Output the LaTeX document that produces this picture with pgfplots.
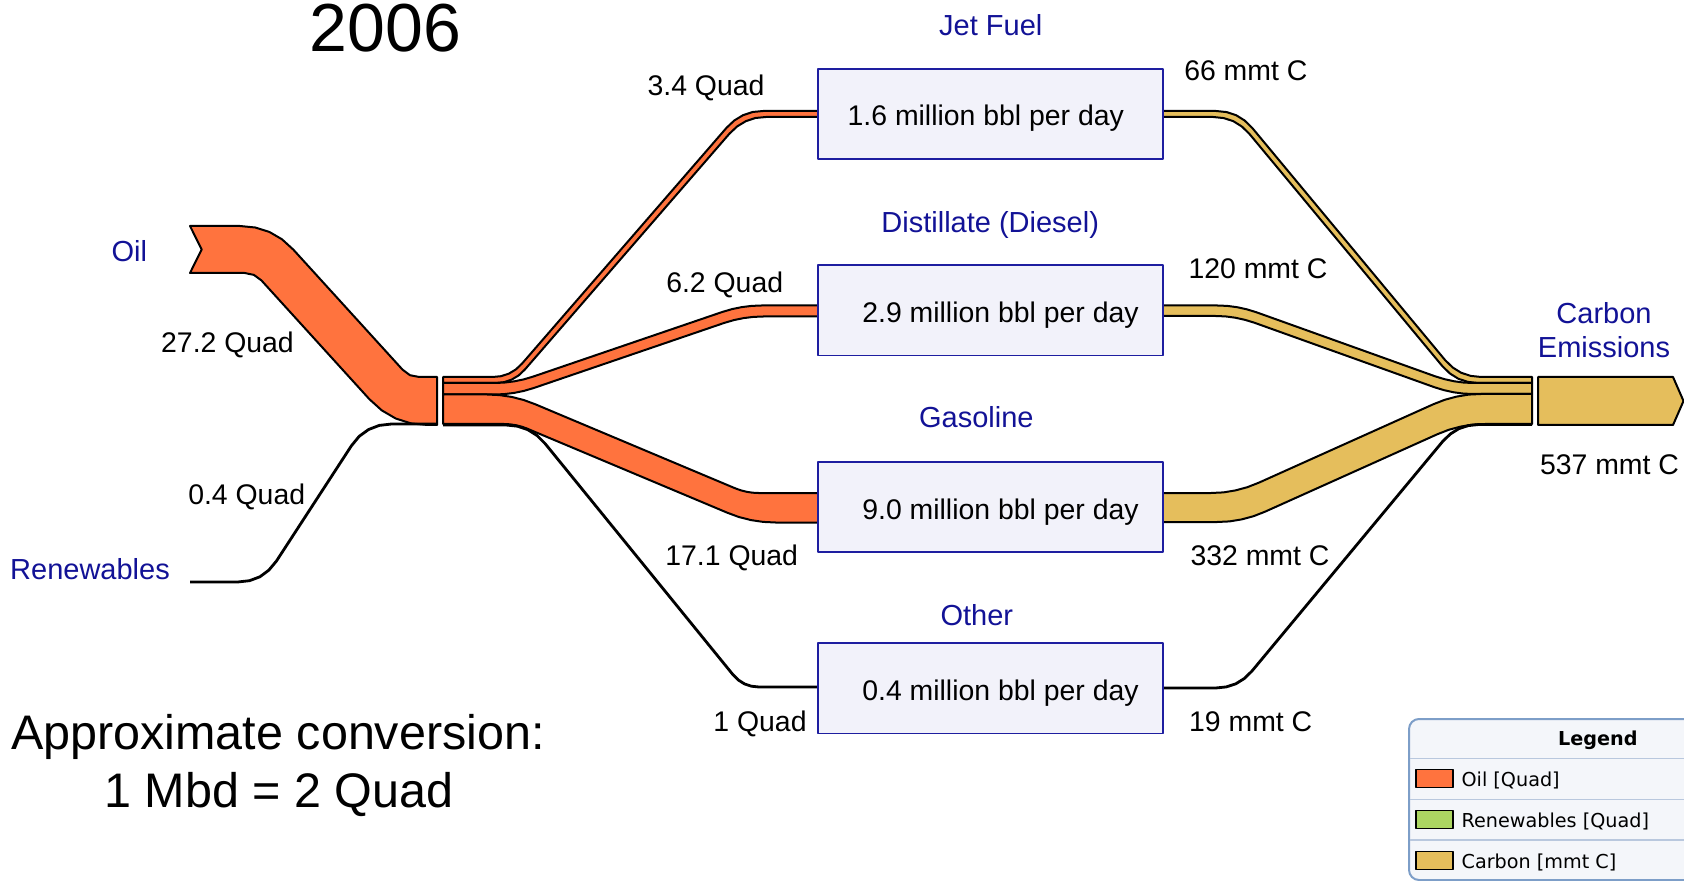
\documentclass[border=0pt]{standalone}
\usepackage{fontspec}
\setmainfont{Liberation Sans}
\newfontfamily\dejavu{DejaVu Sans}
\usepackage{pgfplots}
\pgfplotsset{compat=1.18}
\definecolor{oilc}{RGB}{255,115,62}
\definecolor{carbc}{RGB}{229,190,92}
\definecolor{renc}{RGB}{172,214,98}
\definecolor{navy}{RGB}{18,18,150}
\definecolor{boxb}{RGB}{30,30,160}
\definecolor{boxf}{RGB}{242,242,250}
\definecolor{legb}{RGB}{125,158,200}
\definecolor{legf}{RGB}{244,246,250}
\definecolor{legs}{RGB}{185,200,222}
\tikzset{
  lbl/.style={anchor=base, inner sep=0pt, font=\fontsize{14.2pt}{17pt}\selectfont},
  nlbl/.style={anchor=base, inner sep=0pt, text=navy, font=\fontsize{14.5pt}{17pt}\selectfont},
  big/.style={anchor=base, inner sep=0pt, font=\fontsize{24.25pt}{28pt}\selectfont},
}
\begin{document}
\begin{tikzpicture}
\begin{axis}[
  scale only axis, width=842pt, height=440.5pt,
  xmin=0, xmax=1684, ymin=0, ymax=881, y dir=reverse,
  axis lines=none, clip=false, no markers,
  legend image code/.code={\draw[#1] (0pt,-0.4pt) rectangle (18.5pt,8.35pt); \path (22.5pt,0pt);},
  legend style={at={(axis cs:1409,719)}, anchor=north west, draw=none, fill=none,
    inner xsep=3pt, inner ysep=0pt, row sep=0pt,
    font=\fontsize{9.6pt}{11pt}\selectfont\dejavu,
    cells={anchor=base west},
    nodes={inner sep=0pt, text height=7.5pt, text depth=2pt, minimum height=20.5pt}},
  every axis plot/.append style={line join=round},
]
% ---- legend frame
\draw[fill=legf, draw=legb, line width=1pt, rounded corners=5pt] (axis cs:1409,719) rectangle (axis cs:1720,880);
\draw[legs, line width=0.8pt] (axis cs:1410,758.3) -- (axis cs:1720,758.3);
\draw[legs, line width=0.8pt] (axis cs:1410,799.3) -- (axis cs:1720,799.3);
\draw[legs, line width=0.8pt] (axis cs:1410,840) -- (axis cs:1720,840);

% ---- Oil input (27.2 Quad)
\addplot[fill=oilc, draw=black, line width=1pt, forget plot] coordinates {
(190,226) (239.9,226) (255.2,227.5) (269.3,231.9) (282.0,239.3) (293.4,249.7)
(402.5,369.6) (410.0,375.2) (419.2,377) (437,377) (437,425) (427.8,425)
(411.0,423.4) (395.7,418.5) (381.8,410.4) (369.3,399.1) (261.4,280.4)
(253.9,274.9) (244.7,273) (190,273) (201.7,249.5)} -- cycle;

% ---- Renewables (0.4 Quad)
\addplot[draw=black, line width=1.4pt, forget plot] coordinates {
(190,582) (237.7,582) (249.5,580.7) (259.9,576.8) (268.8,570.2) (276.4,561.1)
(351.4,445.8) (359.2,436.3) (368.6,429.5) (379.3,425.4) (391.6,424) (437,424)};

% ---- Jet fuel oil (3.4 Quad)
\addplot[fill=oilc, draw=black, line width=1pt, forget plot] coordinates {
(443,377) (492.4,377) (501.0,376.2) (508.9,373.6) (515.9,369.4) (522.2,363.4)
(726.7,127.6) (734.4,120.4) (743.0,115.2) (752.6,112.0) (763.1,111) (822,111)
(822,117) (765.9,117) (755.4,118.0) (745.8,121.2) (737.2,126.4) (729.5,133.6)
(525.0,369.4) (518.7,375.4) (511.7,379.6) (503.8,382.2) (495.2,383) (443,383)} -- cycle;

% ---- Distillate oil (6.2 Quad)
\addplot[fill=oilc, draw=black, line width=1pt, forget plot] coordinates {
(443,383) (494.3,383) (504.2,382.6) (514.0,381.4) (523.7,379.4) (533.1,376.6)
(722.5,311.9) (732.1,309.1) (741.8,307.1) (751.6,305.9) (761.5,305.5) (822,305.5)
(822,316.5) (763.3,316.5) (753.4,316.9) (743.6,318.1) (733.9,320.1) (724.3,322.9)
(533.5,388.1) (523.9,390.9) (514.2,392.9) (504.4,394.1) (494.5,394.5) (443,394.5)} -- cycle;

% ---- Gasoline oil (17.1 Quad)
\addplot[fill=oilc, draw=black, line width=1pt, forget plot] coordinates {
(443,394.5) (487,394.5) (499.4,395.1) (511.5,396.9) (523.4,399.9) (535.1,404.2)
(735.4,488.4) (741.0,490.4) (746.7,491.8) (752.6,492.7) (758.5,493) (822,493)
(822,522.5) (775.5,522.5) (763.1,521.9) (751.0,520.1) (739.1,517.1) (727.5,512.8)
(527.1,428.6) (521.5,426.6) (515.8,425.2) (509.9,424.3) (504,424) (443,424)} -- cycle;

% ---- Other oil (1 Quad)
\addplot[draw=black, line width=1.4pt, forget plot] coordinates {
(443,425) (506,425) (517.4,426.2) (527.8,429.7) (537.0,435.5) (545.1,443.6)
(732.9,674.6) (738.3,680.0) (744.5,683.9) (751.4,686.2) (759,687) (822,687)};

% ---- Carbon: jet (66)
\addplot[fill=carbc, draw=black, line width=1pt, forget plot] coordinates {
(1159,111) (1216.1,111) (1226.6,112.1) (1236.1,115.2) (1244.6,120.5) (1252.2,127.9)
(1445.1,360.1) (1452.7,367.5) (1461.2,372.8) (1470.7,375.9) (1481.2,377) (1532,377)
(1532,383) (1478.4,383) (1467.9,381.9) (1458.4,378.8) (1449.9,373.5) (1442.3,366.1)
(1249.4,133.9) (1241.8,126.5) (1233.3,121.2) (1223.8,118.1) (1213.3,117) (1159,117)} -- cycle;

% ---- Carbon: distillate (120)
\addplot[fill=carbc, draw=black, line width=1pt, forget plot] coordinates {
(1159,305.5) (1217.4,305.5) (1227.3,305.9) (1237.1,307.2) (1246.7,309.3) (1256.2,312.2)
(1435.1,376.3) (1444.6,379.2) (1454.2,381.3) (1464.0,382.6) (1473.9,383) (1532,383)
(1532,394) (1473.4,394) (1463.5,393.6) (1453.7,392.3) (1444.1,390.2) (1434.6,387.3)
(1254.3,322.7) (1244.8,319.8) (1235.2,317.7) (1225.4,316.4) (1215.5,316) (1159,316)} -- cycle;

% ---- Carbon: gasoline (332)
\addplot[fill=carbc, draw=black, line width=1pt, forget plot] coordinates {
(1159,493) (1211,493) (1223.4,492.4) (1235.5,490.4) (1247.3,487.2) (1258.8,482.7)
(1433.2,404.3) (1444.7,399.8) (1456.6,396.6) (1468.6,394.6) (1481,394) (1532,394)
(1532,424) (1485,424) (1472.6,424.6) (1460.6,426.6) (1448.7,429.8) (1437.2,434.3)
(1265,511.7) (1253.5,516.2) (1241.7,519.4) (1229.6,521.4) (1217.2,522) (1159,522)} -- cycle;

% ---- Carbon: other (19)
\addplot[draw=black, line width=1.4pt, forget plot] coordinates {
(1159,688) (1215.8,688) (1226.3,686.9) (1235.8,683.8) (1244.3,678.5) (1251.9,671.1)
(1442.7,441.4) (1450.3,434.0) (1458.8,428.7) (1468.3,425.6) (1478.8,424.5) (1532,424.5)};

% ---- Carbon emissions output (537)
\addplot[fill=carbc, draw=black, line width=1pt, forget plot] coordinates {
(1538,377) (1673,377) (1683.5,401) (1673,425) (1538,425)} -- cycle;

% ---- boxes
\addplot[fill=boxf, draw=boxb, line width=0.75pt, forget plot] coordinates {(818,69) (1163,69) (1163,159) (818,159)} -- cycle;
\addplot[fill=boxf, draw=boxb, line width=0.75pt, forget plot] coordinates {(818,265) (1163,265) (1163,355.5) (818,355.5)} -- cycle;
\addplot[fill=boxf, draw=boxb, line width=0.75pt, forget plot] coordinates {(818,462) (1163,462) (1163,552) (818,552)} -- cycle;
\addplot[fill=boxf, draw=boxb, line width=0.75pt, forget plot] coordinates {(818,643) (1163,643) (1163,733.5) (818,733.5)} -- cycle;

% ---- labels
\node[anchor=base, inner sep=0pt, font=\fontsize{34pt}{38pt}\selectfont] at (axis cs:385.5,51.5) {2006};
\node[nlbl] at (axis cs:129.4,262) {Oil};
\node[lbl] at (axis cs:227.5,353) {27.2 Quad};
\node[lbl] at (axis cs:246.7,504) {0.4 Quad};
\node[nlbl] at (axis cs:90,579.5) {Renewables};
\node[lbl] at (axis cs:706,96) {3.4 Quad};
\node[lbl] at (axis cs:724.7,292.7) {6.2 Quad};
\node[lbl] at (axis cs:731.7,565) {17.1 Quad};
\node[lbl] at (axis cs:760,731) {1 Quad};
\node[lbl] at (axis cs:1245.8,81) {66 mmt C};
\node[lbl] at (axis cs:1258,278.3) {120 mmt C};
\node[lbl] at (axis cs:1260,565) {332 mmt C};
\node[lbl] at (axis cs:1250.7,731) {19 mmt C};
\node[nlbl] at (axis cs:1604,323.3) {Carbon};
\node[nlbl] at (axis cs:1604,357.6) {Emissions};
\node[lbl] at (axis cs:1609.5,474) {537 mmt C};
\node[nlbl] at (axis cs:990.8,35.4) {Jet Fuel};
\node[nlbl] at (axis cs:990.2,233) {Distillate (Diesel)};
\node[nlbl] at (axis cs:976.3,427.5) {Gasoline};
\node[nlbl] at (axis cs:976.8,625) {Other};
\node[lbl] at (axis cs:985.8,126) {1.6 million bbl per day};
\node[lbl] at (axis cs:1000.5,322.5) {2.9 million bbl per day};
\node[lbl] at (axis cs:1000.5,519.5) {9.0 million bbl per day};
\node[lbl] at (axis cs:1000.5,700.5) {0.4 million bbl per day};
\node[big] at (axis cs:278,749.6) {Approximate conversion:};
\node[big] at (axis cs:279,807.6) {1 Mbd = 2 Quad};

% ---- legend entries
\addlegendimage{empty legend}
\addlegendentry{\hspace*{48.25pt}\textbf{Legend}\hspace*{45pt}}
\addlegendimage{fill=oilc, draw=black, line width=0.6pt}
\addlegendentry{Oil [Quad]}
\addlegendimage{fill=renc, draw=black, line width=0.6pt}
\addlegendentry{Renewables [Quad]}
\addlegendimage{fill=carbc, draw=black, line width=0.6pt}
\addlegendentry{Carbon [mmt C]}
\end{axis}
\pgfresetboundingbox
\useasboundingbox (current axis.south west) rectangle (current axis.north east);
\end{tikzpicture}
\end{document}
